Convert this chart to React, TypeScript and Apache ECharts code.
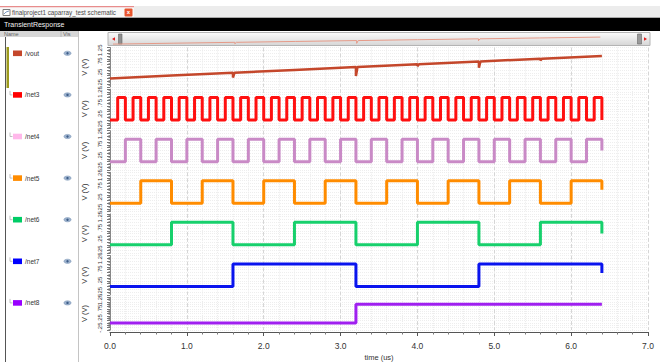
import React, { useEffect, useRef } from "react";
import * as echarts from "echarts";

// ---- data (time in us, voltage in V) ----
const timeUs = [
  0.0, 0.1, 0.2, 0.3, 0.4, 0.5, 0.6, 0.7, 0.8, 0.9, 1.0, 1.1, 1.2, 1.3, 1.4, 1.5,
  1.6, 1.7, 1.8, 1.9, 2.0, 2.1, 2.2, 2.3, 2.4, 2.5, 2.6, 2.7, 2.8, 2.9, 3.0, 3.1,
  3.2, 3.3, 3.4, 3.5, 3.6, 3.7, 3.8, 3.9, 4.0, 4.1, 4.2, 4.3, 4.4, 4.5, 4.6, 4.7,
  4.8, 4.9, 5.0, 5.1, 5.2, 5.3, 5.4, 5.5, 5.6, 5.7, 5.8, 5.9, 6.0, 6.1, 6.2, 6.3,
  6.4,
];

const net3Levels = [
  0, 1, 0, 1, 0, 1, 0, 1, 0, 1, 0, 1, 0, 1, 0, 1, 0, 1, 0, 1, 0, 1, 0, 1, 0, 1, 0, 1, 0, 1, 0, 1,
  0, 1, 0, 1, 0, 1, 0, 1, 0, 1, 0, 1, 0, 1, 0, 1, 0, 1, 0, 1, 0, 1, 0, 1, 0, 1, 0, 1, 0, 1, 0, 1,
];
const net4Levels = [
  0, 0, 1, 1, 0, 0, 1, 1, 0, 0, 1, 1, 0, 0, 1, 1, 0, 0, 1, 1, 0, 0, 1, 1, 0, 0, 1, 1, 0, 0, 1, 1,
  0, 0, 1, 1, 0, 0, 1, 1, 0, 0, 1, 1, 0, 0, 1, 1, 0, 0, 1, 1, 0, 0, 1, 1, 0, 0, 1, 1, 0, 0, 1, 1,
];
const net5Levels = [
  0, 0, 0, 0, 1, 1, 1, 1, 0, 0, 0, 0, 1, 1, 1, 1, 0, 0, 0, 0, 1, 1, 1, 1, 0, 0, 0, 0, 1, 1, 1, 1,
  0, 0, 0, 0, 1, 1, 1, 1, 0, 0, 0, 0, 1, 1, 1, 1, 0, 0, 0, 0, 1, 1, 1, 1, 0, 0, 0, 0, 1, 1, 1, 1,
];
const net6Levels = [
  0, 0, 0, 0, 0, 0, 0, 0, 1, 1, 1, 1, 1, 1, 1, 1, 0, 0, 0, 0, 0, 0, 0, 0, 1, 1, 1, 1, 1, 1, 1, 1,
  0, 0, 0, 0, 0, 0, 0, 0, 1, 1, 1, 1, 1, 1, 1, 1, 0, 0, 0, 0, 0, 0, 0, 0, 1, 1, 1, 1, 1, 1, 1, 1,
];
const net7Levels = [
  0, 0, 0, 0, 0, 0, 0, 0, 0, 0, 0, 0, 0, 0, 0, 0, 1, 1, 1, 1, 1, 1, 1, 1, 1, 1, 1, 1, 1, 1, 1, 1,
  0, 0, 0, 0, 0, 0, 0, 0, 0, 0, 0, 0, 0, 0, 0, 0, 1, 1, 1, 1, 1, 1, 1, 1, 1, 1, 1, 1, 1, 1, 1, 1,
];
const net8Levels = [
  0, 0, 0, 0, 0, 0, 0, 0, 0, 0, 0, 0, 0, 0, 0, 0, 0, 0, 0, 0, 0, 0, 0, 0, 0, 0, 0, 0, 0, 0, 0, 0,
  1, 1, 1, 1, 1, 1, 1, 1, 1, 1, 1, 1, 1, 1, 1, 1, 1, 1, 1, 1, 1, 1, 1, 1, 1, 1, 1, 1, 1, 1, 1, 1,
];
// value each trace reaches at the very last sample
const netEndValues = [0, 0.5, 0.6, 0.5, 0.6, 1];

// analog output: slow ramp with glitches at major code transitions
const voutTimes = [0.0, 0.8, 1.6, 1.6, 1.62, 2.4, 3.2, 3.2, 3.22, 4.0, 4.0, 4.02, 4.8, 4.8, 4.82, 5.6, 5.6, 5.62, 6.4];
const voutValues = [0.0, 0.13, 0.255, 0.04, 0.255, 0.38, 0.505, 0.11, 0.505, 0.63, 0.55, 0.63, 0.755, 0.48, 0.755, 0.88, 0.8, 0.88, 1.0];

const traceNames = ["/vout", "/net3", "/net4", "/net5", "/net6", "/net7", "/net8"];
const lineColors = ["#c4472b", "#ff1010", "#c98ac6", "#ff8c00", "#17d06c", "#0a14ee", "#a020f0"];
const swatchColors = ["#c4472b", "#ff0000", "#ffb8ea", "#ff8c00", "#00cc66", "#0000ff", "#9900ff"];

const xTickLabels = ["0.0", "1.0", "2.0", "3.0", "4.0", "5.0", "6.0", "7.0"];
const yTickValues = [-0.25, 0.25, 0.75, 1.25];
const yTickLabels = ["-.25", ".25", ".75", "1.25"];

const FONT = "Liberation Sans";

export default function App() {
  const ref = useRef<HTMLDivElement>(null);

  useEffect(() => {
    if (!ref.current) return;
    const chart = echarts.init(ref.current, null, { renderer: "svg" });

    const plotLeft = 110;
    const plotWidth = 538;
    const top0 = 47.5;
    const pitch = 41.6;
    const panelH = 39.4;

    const grids: any[] = [];
    const xAxes: any[] = [];
    const yAxes: any[] = [];
    const series: any[] = [];

    const netLevels = [net3Levels, net4Levels, net5Levels, net6Levels, net7Levels, net8Levels];

    for (let i = 0; i < 7; i++) {
      const last = i === 6;
      grids.push({ left: plotLeft, top: top0 + i * pitch, width: plotWidth, height: panelH });
      xAxes.push({
        gridIndex: i,
        type: "value",
        min: 0,
        max: 7,
        interval: 1,
        offset: last ? 2 : 0,
        axisLine: { show: last, onZero: false, lineStyle: { color: "#555", width: 1 } },
        axisTick: { show: last, length: 4, lineStyle: { color: "#555" } },
        minorTick: { show: last, splitNumber: 5, length: 2.5, lineStyle: { color: "#777" } },
        axisLabel: {
          show: last,
          fontSize: 8.5,
          color: "#333",
          margin: 9,
          fontFamily: FONT,
          formatter: (v: number) => xTickLabels[Math.round(v)] ?? "",
        },
        splitLine: { show: true, lineStyle: { color: "#d6d6d6", type: "dashed", width: 1 } },
        minorSplitLine: { show: true, lineStyle: { color: "#ececec", type: "dotted", width: 1 } },
        name: last ? "time (us)" : "",
        nameLocation: "middle",
        nameGap: 21,
        nameTextStyle: { fontSize: 7.5, color: "#333", fontFamily: FONT },
      });
      yAxes.push({
        gridIndex: i,
        type: "value",
        min: -0.375,
        max: 1.375,
        interval: 0.125,
        offset: 2,
        axisLine: { show: true, lineStyle: { color: "#888", width: 1 } },
        axisTick: { show: true, length: 3, lineStyle: { color: "#777" } },
        minorTick: { show: true, splitNumber: 2, length: 1.5, lineStyle: { color: "#999" } },
        axisLabel: {
          rotate: 90,
          fontSize: 6,
          color: "#333",
          margin: 5,
          fontFamily: FONT,
          showMinLabel: true,
          showMaxLabel: true,
          hideOverlap: false,
          formatter: (v: number) => {
            const k = yTickValues.findIndex((t) => Math.abs(t - v) < 1e-6);
            return k >= 0 ? yTickLabels[k] : "";
          },
        },
        splitLine: { show: true, lineStyle: { color: "#eeeeee", type: "dotted", width: 1 } },
        name: "V (V)",
        nameLocation: "middle",
        nameRotate: 90,
        nameGap: 20,
        nameTextStyle: { fontSize: 7.5, color: "#333", fontFamily: FONT },
      });

      if (i === 0) {
        series.push({
          name: traceNames[0],
          type: "line",
          xAxisIndex: 0,
          yAxisIndex: 0,
          showSymbol: false,
          data: voutTimes.map((t, k) => [t, voutValues[k]]),
          lineStyle: { color: lineColors[0], width: 2.5 },
          itemStyle: { color: lineColors[0] },
        });
      } else {
        const lv = netLevels[i - 1];
        const data: number[][] = lv.map((v, k) => [timeUs[k], v]);
        data.push([timeUs[lv.length], lv[lv.length - 1]]);
        data.push([timeUs[lv.length], netEndValues[i - 1]]);
        series.push({
          name: traceNames[i],
          type: "line",
          step: "end",
          xAxisIndex: i,
          yAxisIndex: i,
          showSymbol: false,
          data,
          lineStyle: { color: lineColors[i], width: 3 },
          itemStyle: { color: lineColors[i] },
        });
      }
    }

    // overview strip inside the scrollbar
    grids.push({ left: 113, top: 35, width: 533, height: 10.5 });
    xAxes.push({ gridIndex: 7, type: "value", min: 0, max: 7, show: false });
    yAxes.push({ gridIndex: 7, type: "value", min: -0.2, max: 1.3, show: false });
    series.push({
      type: "line",
      xAxisIndex: 7,
      yAxisIndex: 7,
      showSymbol: false,
      silent: true,
      z: 5,
      data: voutTimes.map((t, k) => [t, voutValues[k]]),
      lineStyle: { color: "#e59a88", width: 1 },
    });

    // ---- window chrome ----
    const g: any[] = [];
    g.push({ type: "rect", shape: { x: 0, y: 6, width: 660, height: 12 }, style: { fill: "#ececec" }, z: -10 });
    g.push({ type: "rect", shape: { x: 0, y: 7, width: 134, height: 11 }, style: { fill: "#f8f8f8" }, z: -9 });
    g.push({ type: "rect", shape: { x: 0, y: 6, width: 134, height: 1.2 }, style: { fill: "#e88c8c" }, z: -9 });
    g.push({ type: "rect", shape: { x: 3, y: 9.5, width: 7, height: 6 }, style: { fill: "#fff", stroke: "#7a7a7a", lineWidth: 1 } });
    g.push({ type: "polyline", shape: { points: [[4, 14], [6, 12], [9, 11]] }, style: { stroke: "#5a7fb0", fill: null, lineWidth: 0.8 } });
    g.push({
      type: "text", x: 12, y: 12.7,
      style: { text: "finalproject1 caparray_test schematic", fill: "#4a4a4a", fontSize: 6.3, fontFamily: FONT, textVerticalAlign: "middle", verticalAlign: "middle" },
    });
    g.push({ type: "rect", shape: { x: 124.5, y: 8.5, width: 8, height: 8, r: 1 }, style: { fill: "#e8562f" } });
    g.push({
      type: "text", x: 128.5, y: 12.3,
      style: { text: "x", fill: "#fff", fontSize: 6, fontWeight: "bold", fontFamily: FONT, textAlign: "center", align: "center", textVerticalAlign: "middle", verticalAlign: "middle" },
    });
    g.push({ type: "rect", shape: { x: 0, y: 17, width: 660, height: 1 }, style: { fill: "#a8a8a8" } });
    g.push({ type: "rect", shape: { x: 0, y: 18, width: 660, height: 13 }, style: { fill: "#000" } });
    g.push({
      type: "text", x: 4, y: 24.8,
      style: { text: "TransientResponse", fill: "#f2f2f2", fontSize: 7, fontFamily: FONT, textVerticalAlign: "middle", verticalAlign: "middle" },
    });

    // left panel
    g.push({ type: "rect", shape: { x: 0, y: 31, width: 78, height: 6 }, style: { fill: "#d7d7d7" } });
    g.push({ type: "line", shape: { x1: 61, y1: 31, x2: 61, y2: 37 }, style: { stroke: "#b5b5b5", lineWidth: 1 } });
    g.push({
      type: "text", x: 4, y: 34,
      style: { text: "Name", fill: "#666", fontSize: 5.5, fontFamily: FONT, textVerticalAlign: "middle", verticalAlign: "middle" },
    });
    g.push({
      type: "text", x: 63, y: 34,
      style: { text: "Vis", fill: "#666", fontSize: 5.5, fontFamily: FONT, textVerticalAlign: "middle", verticalAlign: "middle" },
    });
    g.push({ type: "line", shape: { x1: 78.5, y1: 31, x2: 78.5, y2: 362 }, style: { stroke: "#c4c4c4", lineWidth: 1 } });
    g.push({ type: "line", shape: { x1: 5.5, y1: 37, x2: 5.5, y2: 362 }, style: { stroke: "#555", lineWidth: 1 } });
    g.push({ type: "rect", shape: { x: 6.5, y: 47, width: 2.5, height: 41 }, style: { fill: "#9c9a1c" } });

    for (let i = 0; i < 7; i++) {
      const y = 53.3 + i * pitch;
      if (i > 0) {
        g.push({ type: "polyline", shape: { points: [[10, y - 4], [10, y], [12.5, y]] }, style: { stroke: "#b0b0b0", fill: null, lineWidth: 0.8 } });
      }
      g.push({ type: "rect", shape: { x: 13, y: y - 2.8, width: 9, height: 5.6 }, style: { fill: swatchColors[i] } });
      g.push({
        type: "text", x: 25, y: y,
        style: { text: traceNames[i], fill: "#333", fontSize: 6.5, fontFamily: FONT, textVerticalAlign: "middle", verticalAlign: "middle" },
      });
      g.push({ type: "ellipse", shape: { cx: 67.5, cy: y, rx: 3.6, ry: 2.1 }, style: { fill: "#9fb4cf", stroke: "#7f98b8", lineWidth: 0.6 } });
      g.push({ type: "circle", shape: { cx: 67.5, cy: y, r: 1.2 }, style: { fill: "#3d5d88" } });
    }

    // scrollbar
    g.push({
      type: "rect", z: -5,
      shape: { x: 108, y: 32.5, width: 542, height: 13 },
      style: {
        fill: { type: "linear", x: 0, y: 0, x2: 0, y2: 1, colorStops: [{ offset: 0, color: "#fbfbfb" }, { offset: 1, color: "#d6d6d6" }] },
        stroke: "#b4b4b4", lineWidth: 1,
      },
    });
    g.push({ type: "polygon", shape: { points: [[112, 39], [115, 37.3], [115, 40.7]] }, style: { fill: "#e01c1c" } });
    g.push({ type: "rect", shape: { x: 118.5, y: 34, width: 3.5, height: 10 }, style: { fill: "#8f8f8f", stroke: "#666", lineWidth: 0.6 } });
    g.push({ type: "rect", shape: { x: 637.5, y: 34, width: 4, height: 10 }, style: { fill: "#9a9a9a", stroke: "#666", lineWidth: 0.6 } });
    g.push({ type: "polygon", shape: { points: [[647, 39], [644, 37.3], [644, 40.7]] }, style: { fill: "#e01c1c" } });

    chart.setOption({
      animation: false,
      backgroundColor: "#ffffff",
      textStyle: { fontFamily: FONT },
      grid: grids,
      xAxis: xAxes,
      yAxis: yAxes,
      series,
      graphic: g,
    });

    return () => chart.dispose();
  }, []);

  return (
    <div
      ref={ref}
      style={{ position: "fixed", left: 0, top: 0, width: 660, height: 362, background: "#fff" }}
    />
  );
}
